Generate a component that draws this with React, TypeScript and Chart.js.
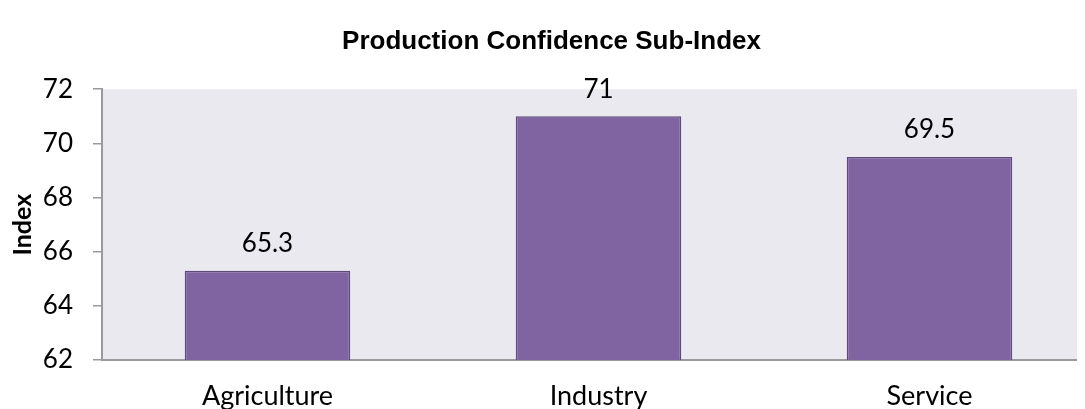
import React, { useEffect, useRef } from "react";
import { Chart, registerables } from "chart.js";

Chart.register(...registerables);

const categories = ["Agriculture", "Industry", "Service"];
const values = [65.3, 71, 69.5];
const valueLabels = ["65.3", "71", "69.5"];
const yTicks = [62, 64, 66, 68, 70, 72];
const titleText = "Production Confidence Sub-Index";
const yTitle = "Index";

const TICK_FONT = "Lato, 'Open Sans', sans-serif";

const plotBg = {
  id: "plotBg",
  beforeDraw(chart: any) {
    const { ctx, chartArea } = chart;
    if (!chartArea) return;
    ctx.save();
    ctx.fillStyle = "#EBE9F0";
    ctx.fillRect(chartArea.left, chartArea.top, chartArea.right - chartArea.left, chartArea.bottom - chartArea.top);
    ctx.restore();
  },
};

const valueLabelsPlugin = {
  id: "valueLabels",
  afterDatasetsDraw(chart: any) {
    const { ctx } = chart;
    const meta = chart.getDatasetMeta(0);
    ctx.save();
    ctx.fillStyle = "#000";
    ctx.font = `26px ${TICK_FONT}`;
    ctx.textAlign = "center";
    ctx.textBaseline = "middle";
    meta.data.forEach((bar: any, i: number) => {
      ctx.fillText(valueLabels[i], bar.x, bar.y - 27);
    });
    ctx.restore();
  },
};

export default function App() {
  const ref = useRef<HTMLCanvasElement>(null);
  useEffect(() => {
    document.documentElement.style.overflow = "hidden";
    document.body.style.overflow = "hidden";
    const chart = new Chart(ref.current!, {
      type: "bar",
      data: {
        labels: categories,
        datasets: [
          {
            data: values,
            backgroundColor: "#8064A2",
            borderColor: "#5E497B",
            borderWidth: 1.5,
            barPercentage: 0.5,
            categoryPercentage: 1,
          },
        ],
      },
      options: {
        animation: false,
        responsive: false,
        devicePixelRatio: 1,
        layout: { padding: { left: 0, right: 13, top: 0, bottom: 0 } },
        plugins: {
          legend: { display: false },
          tooltip: { enabled: false },
          title: {
            display: true,
            text: titleText,
            color: "#000",
            font: { family: "'Liberation Sans', Arial, sans-serif", size: 26, weight: "bold", lineHeight: 1.2 },
            padding: { top: 18, bottom: 32 },
          },
        },
        scales: {
          x: {
            afterFit(scale: any) {
              scale.height = 52;
            },
            grid: { display: false, drawTicks: false },
            border: { display: true, color: "#9A9A9A", width: 2 },
            ticks: {
              color: "#000",
              font: { family: TICK_FONT, size: 27, lineHeight: 1.2 },
              padding: 20,
              maxRotation: 0,
            },
          },
          y: {
            min: 62,
            max: 72,
            afterFit(scale: any) {
              scale.width = 94;
            },
            afterBuildTicks(scale: any) {
              scale.ticks = yTicks.map((v) => ({ value: v }));
            },
            grid: {
              display: true,
              drawOnChartArea: false,
              drawTicks: true,
              tickLength: 9,
              color: "#9A9A9A",
              lineWidth: 1.5,
            },
            border: { display: true, color: "#9A9A9A", width: 2 },
            ticks: {
              color: "#000",
              font: { family: TICK_FONT, size: 26, lineHeight: 1.2 },
              padding: 20,
            },
            title: {
              display: true,
              text: yTitle,
              color: "#000",
              font: { family: TICK_FONT, size: 25, weight: "bold", lineHeight: 1.2 },
              padding: { top: 0, bottom: 0 },
            },
          },
        },
      },
      plugins: [plotBg, valueLabelsPlugin],
    });
    return () => chart.destroy();
  }, []);
  return (
    <div style={{ width: 1077, height: 401, overflow: "hidden" }}>
      <canvas ref={ref} width={1100} height={404} style={{ display: "block" }} />
    </div>
  );
}
